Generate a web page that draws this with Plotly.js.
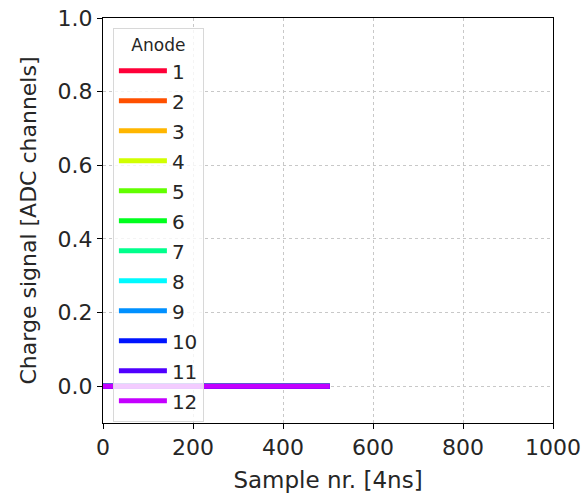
<!DOCTYPE html>
<html>
<head>
<meta charset="utf-8">
<script src="https://cdn.plot.ly/plotly-3.0.1.min.js"></script>
<style>html,body{margin:0;padding:0;background:#fff;}#chart{width:588px;height:498px;}</style>
</head>
<body>
<div id="chart"></div>
<script>
// Data
var anodes = ["1","2","3","4","5","6","7","8","9","10","11","12"];
var sampleX = [0, 504];
var signal1 = [0, 0];
var signal2 = [0, 0];
var signal3 = [0, 0];
var signal4 = [0, 0];
var signal5 = [0, 0];
var signal6 = [0, 0];
var signal7 = [0, 0];
var signal8 = [0, 0];
var signal9 = [0, 0];
var signal10 = [0, 0];
var signal11 = [0, 0];
var signal12 = [0, 0];
var signals = [signal1,signal2,signal3,signal4,signal5,signal6,signal7,signal8,signal9,signal10,signal11,signal12];
var colors = ["#ff0038","#ff5000","#ffb600","#d1ff00","#62ff00","#00ff1e","#00ff8c","#00faff","#0090ff","#0014ff","#5000ff","#c400ff"];

var F = "DejaVu Sans, sans-serif";
var traces = anodes.map(function(a, i){
  return {
    type: "scatter", mode: "lines",
    x: sampleX, y: signals[i], name: a,
    legendgroup: "g"+a,
    line: {color: colors[i], width: 5},
    hoverinfo: "skip"
  };
});

var layout = {
  width: 588, height: 498,
  margin: {l: 103, r: 35, t: 18, b: 75, pad: 0},
  paper_bgcolor: "#fff", plot_bgcolor: "#fff",
  font: {family: F, color: "#262626", size: 20},
  showlegend: true,
  legend: {
    x: 0.022, y: 0.975, xanchor: "left", yanchor: "top",
    bgcolor: "rgba(255,255,255,0.8)", bordercolor: "#d8d8d8", borderwidth: 1,
    font: {family: F, size: 20, color: "#262626"},
    title: {text: "Anode", side: "top center", font: {family: F, size: 17, color: "#262626"}},
    traceorder: "grouped", tracegroupgap: 1,
    itemwidth: 48
  },
  xaxis: {
    range: [0, 1000], dtick: 200, tick0: 0,
    showgrid: true, gridcolor: "#c8c8c8", griddash: "dot", gridwidth: 1,
    zeroline: false, showline: true, linecolor: "#000", linewidth: 1, mirror: true,
    ticks: "outside", ticklen: 5, tickcolor: "#000",
    tickfont: {family: F, size: 22, color: "#262626"},
    title: {text: "Sample nr. [4ns]", font: {family: F, size: 23, color: "#262626"}, standoff: 12}
  },
  yaxis: {
    range: [-0.1, 1.0], dtick: 0.2, tick0: 0, tickformat: ".1f",
    showgrid: true, gridcolor: "#c8c8c8", griddash: "dot", gridwidth: 1,
    zeroline: false, showline: true, linecolor: "#000", linewidth: 1, mirror: true,
    ticks: "outside", ticklen: 5, tickcolor: "#000",
    tickfont: {family: F, size: 22, color: "#262626"},
    title: {text: "Charge signal [ADC channels]", font: {family: F, size: 22, color: "#262626"}, standoff: 14}
  }
};

Plotly.newPlot("chart", traces, layout, {displayModeBar: false, staticPlot: true});
</script>
</body>
</html>
